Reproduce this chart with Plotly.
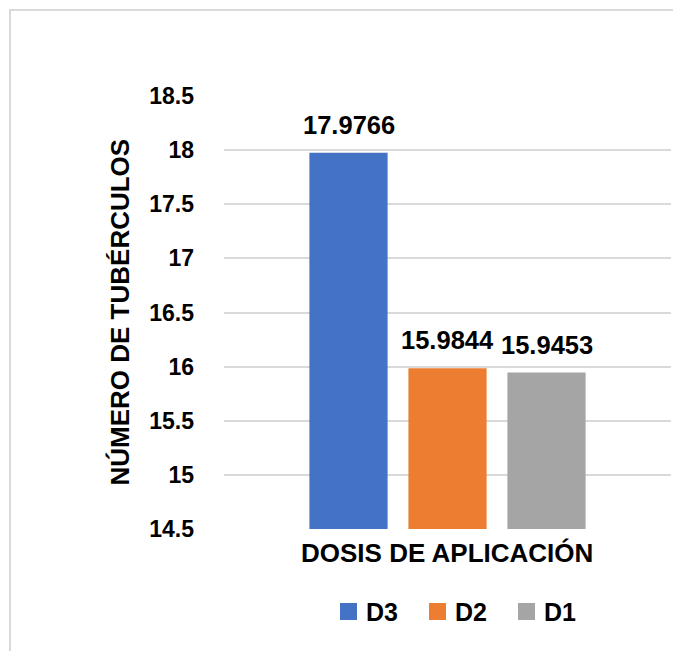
import plotly.graph_objects as go

# Data
series = ["D3", "D2", "D1"]
values = [17.9766, 15.9844, 15.9453]
colors = ["#4472C4", "#ED7D31", "#A5A5A5"]
category = "DOSIS DE APLICACIÓN"
y_ticks = [14.5, 15, 15.5, 16, 16.5, 17, 17.5, 18, 18.5]
y_tick_labels = ["14.5", "15", "15.5", "16", "16.5", "17", "17.5", "18", "18.5"]
y_title = "NÚMERO DE TUBÉRCULOS"

FONT = "Liberation Sans, Arial, sans-serif"
GRID = "#D9D9D9"

W, H = 673, 651
ML, MR, MT, MB = 224, 2, 96, 122
PW, PH = W - ML - MR, H - MT - MB

def px_x(px):
    return (px - ML) / PW

def px_y(py):
    return (H - MB - py) / PH

def bold(size):
    return dict(family=FONT, size=size, color="#000000", weight="bold")

fig = go.Figure()
positions = list(range(len(series)))
for i, (name, val, col) in enumerate(zip(series, values, colors)):
    fig.add_trace(go.Bar(
        x=[positions[i]], y=[val], name=name, width=0.79,
        marker=dict(color=col, line=dict(width=0)),
        showlegend=False,
    ))
    fig.add_annotation(
        x=positions[i], y=val, xref="x", yref="y",
        text=f"{val:.4f}", showarrow=False,
        yanchor="bottom", yshift=12,
        font=bold(25.5),
    )

# Category label under the axis
fig.add_annotation(
    x=px_x(447), y=px_y(553), xref="paper", yref="paper",
    text=category, showarrow=False, xanchor="center", yanchor="middle",
    font=bold(26),
)

# Y-axis title
fig.add_annotation(
    x=px_x(119), y=0.5, xref="paper", yref="paper",
    text=y_title, showarrow=False, textangle=-90,
    xanchor="center", yanchor="middle",
    font=bold(26),
)

# Legend: swatches and names
legend_sq = [340, 429, 518]
for name, col, sx in zip(series, colors, legend_sq):
    fig.add_shape(
        type="rect", xref="paper", yref="paper",
        x0=px_x(sx), x1=px_x(sx + 17), y0=px_y(620), y1=px_y(603),
        fillcolor=col, line=dict(width=0),
    )
    fig.add_annotation(
        x=px_x(sx + 24), y=px_y(612), xref="paper", yref="paper",
        text=name, showarrow=False, xanchor="left", yanchor="middle",
        font=bold(25),
    )

# Chart border
fig.add_shape(
    type="rect", xref="paper", yref="paper", layer="below",
    x0=px_x(10), x1=px_x(W + 20), y0=px_y(H + 20), y1=px_y(10),
    line=dict(color=GRID, width=2), fillcolor="rgba(0,0,0,0)",
)

half = (PW / 2) / 99.0
fig.update_layout(
    width=W, height=H,
    margin=dict(l=ML, r=MR, t=MT, b=MB),
    paper_bgcolor="white", plot_bgcolor="white",
    showlegend=False,
    xaxis=dict(
        range=[1 - half, 1 + half], showticklabels=False, showgrid=False,
        zeroline=False, showline=False, fixedrange=True,
    ),
    yaxis=dict(
        range=[14.5, 18.5], tickvals=y_ticks, ticktext=y_tick_labels,
        showgrid=True, gridcolor=GRID, gridwidth=2, zeroline=False,
        showline=False, ticks="", ticklabelstandoff=29,
        tickfont=bold(23),
    ),
)

fig.write_html("out.html")
